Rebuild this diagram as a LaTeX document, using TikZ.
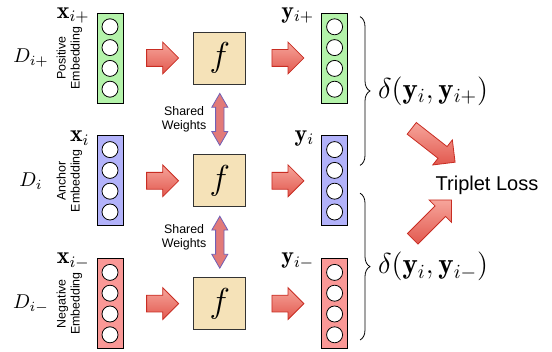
\documentclass[tikz,border=0pt]{standalone}
\usepackage{fontspec}
\newfontfamily\helv{Liberation Sans}
\usepackage{amsmath}
\usetikzlibrary{shapes, arrows.meta, positioning, calc, decorations.pathreplacing}
\definecolor{posgreen}{RGB}{180,243,170}
\definecolor{ancblue}{RGB}{178,178,250}
\definecolor{negred}{RGB}{250,152,150}
\definecolor{ftan}{RGB}{245,226,184}
\definecolor{arrtop}{RGB}{246,165,155}
\definecolor{arrbot}{RGB}{226,88,78}
\definecolor{arredge}{RGB}{200,45,35}
\definecolor{swfill}{RGB}{226,122,120}
\definecolor{swedge}{RGB}{112,96,182}

\begin{document}
\begin{tikzpicture}[x=0.5pt, y=0.5pt, node distance=16pt,
    emb/.style={draw, rectangle, minimum width=13pt, minimum height=45pt, inner sep=0pt},
    unit/.style={draw, circle, fill=white, minimum size=8pt, inner sep=0pt},
    fun/.style={draw=black!80, fill=ftan, minimum size=26pt, inner sep=0pt, font=\fontsize{16}{18}\selectfont},
    blk/.style={single arrow, draw=arredge, top color=arrtop, bottom color=arrbot, inner xsep=0pt, inner ysep=4pt,
        minimum height=16pt, single arrow head extend=3.75pt},
    diag/.style={blk, minimum height=27.5pt, inner ysep=3.5pt, single arrow head extend=4.25pt},
    dbl/.style={double arrow, draw=swedge, fill=swfill, inner xsep=0pt, inner ysep=1.9pt, minimum height=26pt,
        double arrow head extend=1.9pt, double arrow tip angle=60},
    vec/.style={anchor=east, font=\large, yshift=-1.5pt},
    lbl/.style={font=\helv\fontsize{6.2}{7}\selectfont, align=center, inner sep=0pt}]
    \useasboundingbox (0,0) rectangle (552,-352);

    \node[emb, fill=posgreen] (xp) at (110,-58) {};
    \node[emb, fill=ancblue, below=of xp] (xa) {};
    \node[emb, fill=negred, below=of xa] (xn) {};
    \node[fun, right=35pt of xp] (fp) {$f$};
    \node[fun, right=35pt of xa] (fa) {$f$};
    \node[fun, right=35pt of xn] (fn) {$f$};
    \node[emb, fill=posgreen, right=37.5pt of fp] (yp) {};
    \node[emb, fill=ancblue, right=37.5pt of fa] (ya) {};
    \node[emb, fill=negred, right=37.5pt of fn] (yn) {};

    \foreach \c in {xp,xa,xn,yp,ya,yn}
        \foreach \k in {-1.5,-0.5,0.5,1.5}
            \node[unit] at ([yshift=\k*10.4pt]\c.center) {};

    \node[lbl, rotate=90, anchor=south] (ep) at ([xshift=-7pt]xp.west) {Positive\\Embedding};
    \node[lbl, rotate=90, anchor=south] (ea) at ([xshift=-7pt]xa.west) {Anchor\\Embedding};
    \node[lbl, rotate=90, anchor=south] (en) at ([xshift=-7pt]xn.west) {Negative\\Embedding};
    \node (dp) at ([xshift=-39.5pt]xp.center) {$D_{i+}$};
    \node (da) at ([xshift=-39.5pt]xa.center) {$D_{i}$};
    \node (dn) at ([xshift=-39.5pt]xn.center) {$D_{i-}$};
    \node[vec] at (xp.north west) {$\mathbf{x}_{i+}$};
    \node[vec] at (xa.north west) {$\mathbf{x}_{i}$};
    \node[vec] at (xn.north west) {$\mathbf{x}_{i-}$};
    \node[vec] at (yp.north west) {$\mathbf{y}_{i+}$};
    \node[vec] at (ya.north west) {$\mathbf{y}_{i}$};
    \node[vec] at (yn.north west) {$\mathbf{y}_{i-}$};

    \foreach \r in {p,a,n} {
        \node[blk] at ($(x\r.east)!.5!(f\r.west)$) {};
        \node[blk] at ($(f\r.east)!.5!(y\r.west)$) {};
    }

    \node[dbl, rotate=90] (s1) at ($(fp.south)!.5!(fa.north)$) {};
    \node[dbl, rotate=90] (s2) at ($(fa.south)!.5!(fn.north)$) {};
    \node[lbl, anchor=east] at ([xshift=-6.5pt]s1.center) {Shared\\Weights};
    \node[lbl, anchor=east] at ([xshift=-6.5pt,yshift=2.5pt]s2.center) {Shared\\Weights};

    \coordinate (b1) at ([xshift=6pt,yshift=-2pt]yp.north east);
    \coordinate (b2) at ([xshift=6pt,yshift=-15pt]ya.north east);
    \coordinate (b3) at ([xshift=6pt,yshift=16.5pt]ya.south east);
    \coordinate (b4) at ([xshift=6pt,yshift=4.5pt]yn.south east);
    \draw[decorate, decoration={brace, amplitude=5pt}] (b1) -- (b2);
    \draw[decorate, decoration={brace, amplitude=5pt}] (b3) -- (b4);
    \node[anchor=west, font=\fontsize{14.5}{16}\selectfont] (dpos) at ($(b1)!.5!(b2)+(5.5pt,0)$) {$\delta(\mathbf{y}_i,\mathbf{y}_{i+})$};
    \node[anchor=west, font=\fontsize{14.5}{16}\selectfont] (dneg) at ($(b3)!.5!(b4)+(5.5pt,0)$) {$\delta(\mathbf{y}_i,\mathbf{y}_{i-})$};

    \node[font=\helv\fontsize{10}{12}\selectfont] (tl) at (487,-185) {Triplet Loss};
    \node[diag, rotate=-38] at (430.5,-143) {};
    \node[diag, rotate=45] at (429.5,-222) {};
\end{tikzpicture}
\end{document}
